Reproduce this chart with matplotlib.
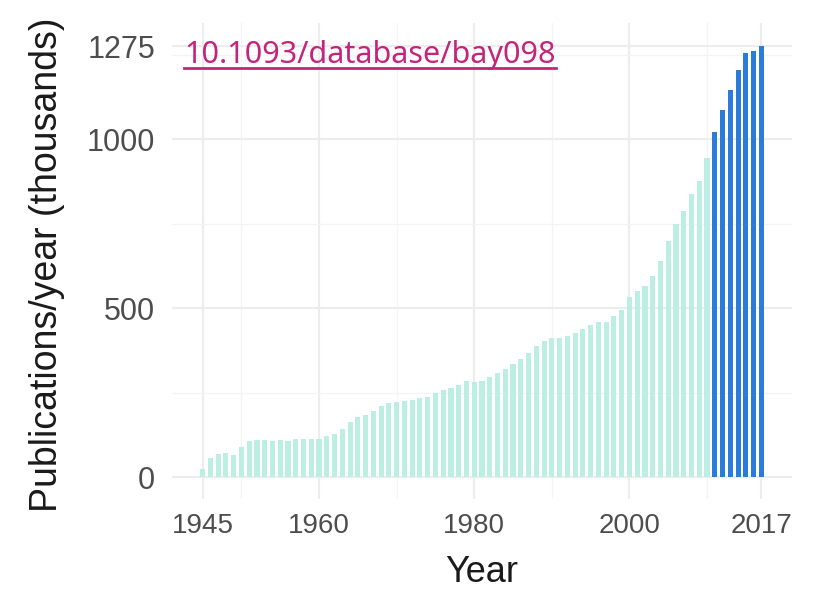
import numpy as np
import matplotlib
matplotlib.use("Agg")
import matplotlib.pyplot as plt
from matplotlib.lines import Line2D

# publications per year, thousands
years = np.arange(1945, 2018)
pubs = [
    24, 57, 68, 73, 65, 89, 109, 112, 112, 108,
    111, 109, 114, 113, 113, 113, 122, 128, 144, 164,
    180, 184, 195, 211, 219, 222, 227, 230, 234, 238,
    249, 257, 263, 274, 284, 281, 286, 297, 310, 320,
    336, 350, 368, 388, 403, 411, 413, 419, 427, 439,
    451, 461, 459, 476, 494, 533, 550, 565, 596, 640,
    699, 750, 787, 838, 877, 945, 1022, 1088, 1145, 1204,
    1255, 1261, 1276,
]
highlight_from = 2011
x_ticks = [1945, 1960, 1980, 2000, 2017]
x_minor = [1950, 1970, 1990, 2010]
y_ticks = [0, 500, 1000, 1275]
y_minor = [250, 750, 1250]
doi = "10.1093/database/bay098"

light = "#bdeee4"
dark = "#2b7bdb"
colors = [dark if y >= highlight_from else light for y in years]

plt.rcParams["font.family"] = ["Liberation Sans", "DejaVu Sans"]
fig = plt.figure(figsize=(8.2, 5.92), dpi=100)
ax = fig.add_axes([172 / 820, 93 / 592, 620 / 820, 476 / 592])

ax.bar(years, pubs, width=0.66, color=colors, zorder=2)

ax.set_xlim(1941.05, 2020.95)
ax.set_ylim(-64, 1344)
ax.set_xticks(x_ticks)
ax.set_xticks(x_minor, minor=True)
ax.set_yticks(y_ticks)
ax.set_yticks(y_minor, minor=True)
ax.grid(True, which="major", color="#ededed", lw=1.6, zorder=0)
ax.grid(True, which="minor", color="#f4f4f4", lw=0.9, zorder=0)
ax.tick_params(which="both", length=0, labelcolor="#4d4d4d")
ax.tick_params(axis="x", labelsize=20, pad=10)
ax.tick_params(axis="y", labelsize=22, pad=12)
for s in ax.spines.values():
    s.set_visible(False)

ax.set_xlabel("Year", fontsize=26, color="#1a1a1a", va="center")
ax.xaxis.set_label_coords(0.5, (499 - 572) / 476)
ax.set_ylabel("Publications/year (thousands)", fontsize=27, color="#1a1a1a", va="center")
ax.yaxis.set_label_coords((47 - 172) / 620, (499 - 265) / 476)

t = fig.text(184 / 820, 1 - 63 / 592, doi, fontsize=22, color="#c4247a",
             family=["Noto Sans", "DejaVu Sans"], va="baseline", ha="left")
fig.canvas.draw()
bb = t.get_window_extent().transformed(fig.transFigure.inverted())
uy = 1 - 68 / 592
fig.add_artist(Line2D([bb.x0, bb.x1], [uy, uy], transform=fig.transFigure,
                      color="#c4247a", lw=2))

fig.savefig("out.png", dpi=100)
